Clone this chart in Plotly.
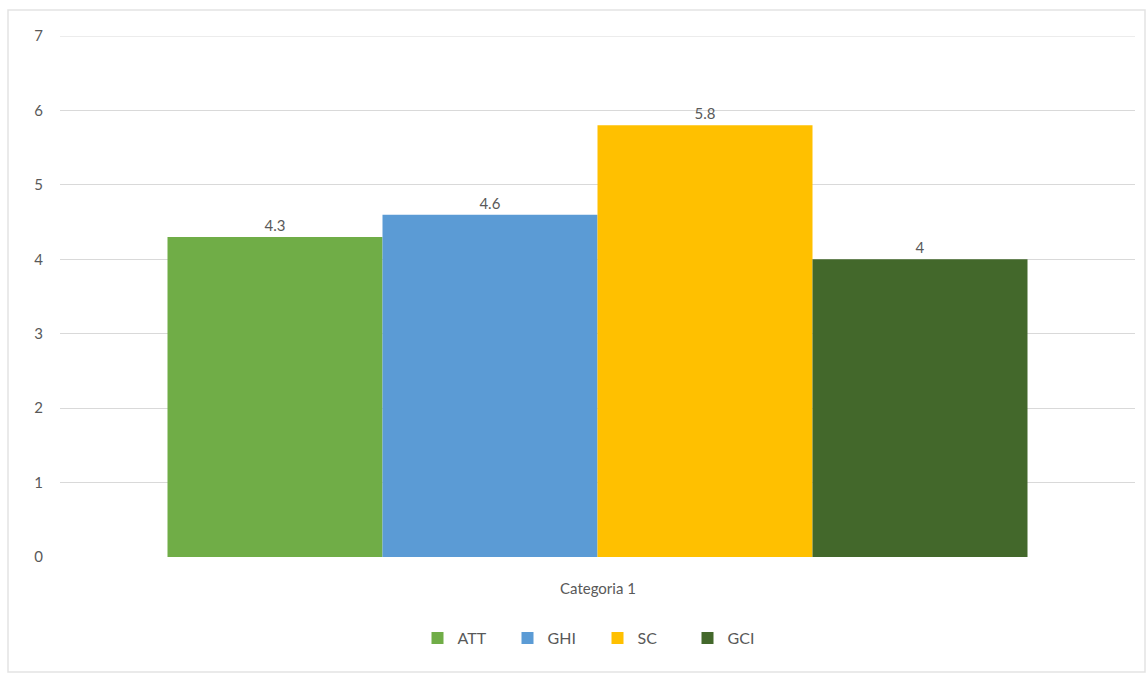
import plotly.graph_objects as go

# Chart data
categories = ["Categoria 1"]
series_names = ["ATT", "GHI", "SC", "GCI"]
series_values = [[4.3], [4.6], [5.8], [4.0]]
series_labels = ["4.3", "4.6", "5.8", "4"]
series_colors = ["#70AD47", "#5B9BD5", "#FFC000", "#43682B"]
y_ticks = [0, 1, 2, 3, 4, 5, 6, 7]

W, H = 1148, 677
L, R, T, B = 60, 13, 36, 120
PH = H - T - B
PW = W - L - R
FONT = "Lato, Open Sans, sans-serif"
TXT = "#595959"
GRID = "#D9D9D9"

fig = go.Figure()
for name, vals, lab, col in zip(series_names, series_values, series_labels, series_colors):
    fig.add_trace(go.Bar(
        name=name, x=categories, y=vals,
        marker=dict(color=col, line=dict(width=0)),
        text=[lab], textposition="outside", cliponaxis=False,
        textfont=dict(family=FONT, size=15, color=TXT),
    ))

fig.update_layout(
    width=W, height=H,
    paper_bgcolor="white", plot_bgcolor="white",
    margin=dict(l=L, r=R, t=T, b=B, autoexpand=False),
    barmode="group", bargap=0.2, bargroupgap=0,
    font=dict(family=FONT, size=14, color=TXT),
    showlegend=True,
    legend=dict(orientation="h", x=0.5, xanchor="center",
                yref="container", y=1 - 638 / H, yanchor="middle",
                bgcolor="rgba(0,0,0,0)",
                font=dict(family=FONT, size=16, color=TXT),
                itemwidth=30, entrywidth=45, traceorder="normal"),
    xaxis=dict(showgrid=False, showline=False, ticks="", zeroline=False,
               showticklabels=False),
    yaxis=dict(range=[0, 7], tickvals=y_ticks, showgrid=True, gridcolor=GRID,
               gridwidth=1, zeroline=False, showline=False, ticks="",
               ticklabelstandoff=16,
               tickfont=dict(family=FONT, size=15, color=TXT)),
    annotations=[dict(x=categories[0], xref="x", yref="paper", y=-31 / PH,
                      yanchor="middle", showarrow=False, text=categories[0],
                      font=dict(family=FONT, size=15, color=TXT))],
    shapes=[
        # outer chart frame
        dict(type="rect", xref="paper", yref="paper",
             x0=-52 / PW, x1=(1145 - L) / PW,
             y0=-(672 - 557) / PH, y1=(557 - 10) / PH,
             line=dict(color="#E3E3E3", width=1.5), layer="below"),
        # top gridline at the axis maximum
        dict(type="line", xref="paper", yref="y", x0=0, x1=1,
             y0=y_ticks[-1], y1=y_ticks[-1],
             line=dict(color=GRID, width=1), layer="below"),
    ],
)

fig.write_html("out.html")
